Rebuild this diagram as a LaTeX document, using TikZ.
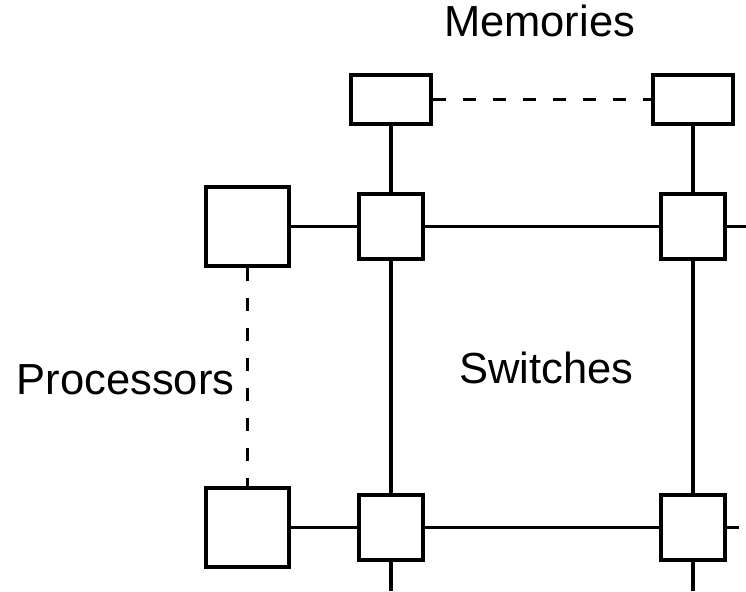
\documentclass[tikz,border=0pt]{standalone}
\usepackage{fontspec}
\setmainfont{Liberation Sans}
\usetikzlibrary{positioning}
\begin{document}
\begin{tikzpicture}[x=1pt, y=-1pt,
    box/.style={draw, line width=4.5pt, inner sep=0pt},
    membox/.style={box, minimum width=80pt, minimum height=49pt},
    procbox/.style={box, minimum width=83pt, minimum height=79pt},
    swbox/.style={box, minimum width=64pt, minimum height=65pt},
    link/.style={line width=3.3pt},
    dlink/.style={line width=3.3pt, dash pattern=on 13pt off 17pt},
    txt/.style={font=\fontsize{43.5}{52}\selectfont, anchor=base}]
    \useasboundingbox (0,0) rectangle (746,591);

    % Memories
    \node[membox] (m1) at (391,99.5) {};
    \node[membox] (m2) at (693,99.5) {};
    \node[txt] (mtxt) at (539.5,37) {Memories};

    % Processors
    \node[procbox] (p1) at (247.5,226.5) {};
    \node[procbox] (p2) at (247.5,527.5) {};
    \node[txt] (ptxt) at (125.5,394) {Processors};

    % Switches
    \node[swbox] (s11) at (391,226.5) {};
    \node[swbox] (s12) at (693,226.5) {};
    \node[swbox] (s21) at (391,527.5) {};
    \node[swbox] (s22) at (693,527.5) {};
    \node[txt] (stxt) at (546.5,383) {Switches};

    % free ends
    \coordinate (e1) at (746,226.5);
    \coordinate (e2) at (739,527.5);
    \coordinate (d1) at (391,591);
    \coordinate (d2) at (693,591);

    % links
    \draw[dlink] (m1) -- (m2);
    \draw[dlink] (p1) -- (p2);
    \draw[link] (m1) -- (s11);
    \draw[link] (m2) -- (s12);
    \draw[link] (p1) -- (s11);
    \draw[link] (p2) -- (s21);
    \draw[link] (s11) -- (s12);
    \draw[link] (s21) -- (s22);
    \draw[link] (s11) -- (s21);
    \draw[link] (s12) -- (s22);
    \draw[link] (s12) -- (e1);
    \draw[link] (s22) -- (e2);
    \draw[link] (s21) -- (d1);
    \draw[link] (s22) -- (d2);
\end{tikzpicture}
\end{document}
